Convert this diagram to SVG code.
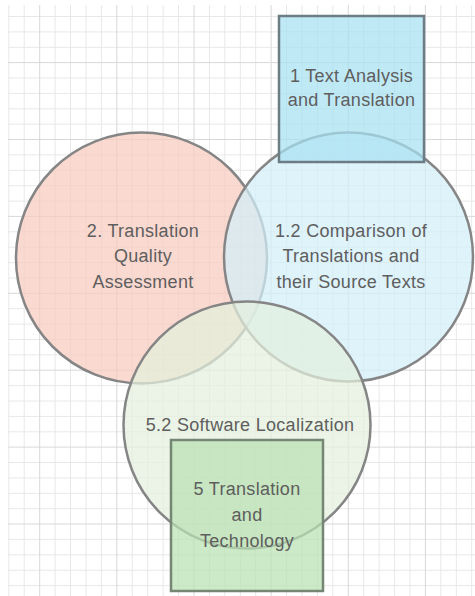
<svg xmlns="http://www.w3.org/2000/svg" width="475" height="596" viewBox="0 0 475 596">
<style>
.minor{stroke:#e8e8e8;stroke-width:1;fill:none}
.major{stroke:#d8d8d8;stroke-width:1;fill:none}
.shape{fill-opacity:0.72;stroke-width:2.5}
.circ{stroke:#858585}
.box{stroke:#6c7d84}
.gbox{stroke:#758675}
text{font-family:"Liberation Sans",Arial,sans-serif;font-size:18px;fill:#5e5e5e;text-anchor:middle;letter-spacing:0.3px}
</style>
<rect width="475" height="596" fill="#ffffff"/>
<g id="grid">
<path class="minor" d="M8.8 5V596M24.2 5V596M55.1 5V596M70.5 5V596M86 5V596M101.4 5V596M132.2 5V596M147.7 5V596M163.1 5V596M178.5 5V596M209.4 5V596M224.8 5V596M240.3 5V596M255.7 5V596M286.5 5V596M302 5V596M317.4 5V596M332.8 5V596M363.7 5V596M379.1 5V596M394.6 5V596M410 5V596M440.8 5V596M456.3 5V596M471.7 5V596"/>
<path class="minor" d="M8 16.5H475M8 31.9H475M8 47.3H475M8 78H475M8 93.4H475M8 108.8H475M8 124.2H475M8 154.9H475M8 170.3H475M8 185.7H475M8 201.1H475M8 231.8H475M8 247.2H475M8 262.6H475M8 278H475M8 308.7H475M8 324.1H475M8 339.5H475M8 354.9H475M8 385.6H475M8 401H475M8 416.4H475M8 431.8H475M8 462.5H475M8 477.9H475M8 493.3H475M8 508.7H475M8 539.4H475M8 554.8H475M8 570.2H475M8 585.6H475"/>
<path class="major" d="M39.7 5V596M116.8 5V596M194 5V596M271.1 5V596M348.3 5V596M425.4 5V596M8 62.6H475M8 139.5H475M8 216.4H475M8 293.3H475M8 370.2H475M8 447.1H475M8 524H475"/>
</g>
<g id="connectors"/>
<g id="n-quality">
<circle class="shape circ" cx="141.5" cy="258" r="125.5" fill="#f7cabe"/>
</g>
<g id="n-comparison">
<circle class="shape circ" cx="348.5" cy="257" r="124.5" fill="#d3eefa"/>
</g>
<g id="n-text-analysis">
<rect class="shape box" x="279" y="16" width="145" height="146" fill="#a8e0f2"/>
</g>
<g id="n-software">
<circle class="shape circ" cx="247" cy="425" r="123.5" fill="#e3f0dc"/>
</g>
<g id="n-technology">
<rect class="shape gbox" x="171" y="440" width="152" height="151" fill="#b8e1b3"/>
</g>
<g id="labels">
<text x="351.5" y="82">1 Text Analysis</text>
<text x="351.5" y="106">and Translation</text>
<text x="143" y="237">2. Translation</text>
<text x="143" y="262">Quality</text>
<text x="143" y="288">Assessment</text>
<text x="351" y="237">1.2 Comparison of</text>
<text x="351" y="262">Translations and</text>
<text x="351" y="288">their Source Texts</text>
<text x="250" y="431">5.2 Software Localization</text>
<text x="247" y="495">5 Translation</text>
<text x="247" y="521">and</text>
<text x="247" y="547">Technology</text>
</g>
</svg>
